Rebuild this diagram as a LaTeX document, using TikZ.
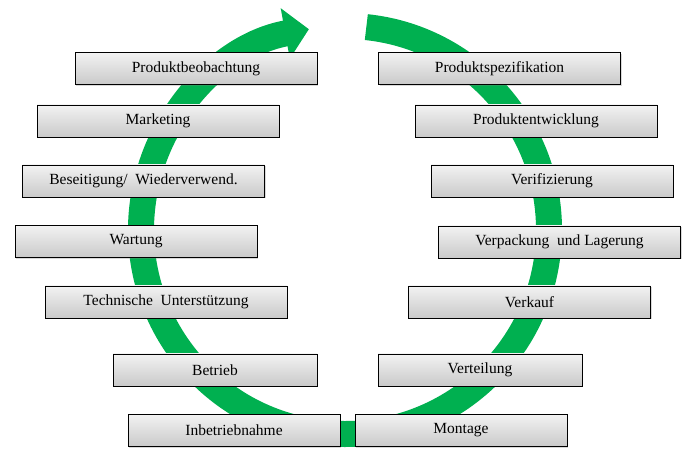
\documentclass[tikz,border=0pt]{standalone}
\usepackage{fontspec}
\setmainfont{Liberation Serif}
\usetikzlibrary{arrows.meta,shadows}
\definecolor{kreisgruen}{HTML}{00B050}
\tikzstyle{phase} = [draw=black, thin, rectangle, top color=gray!10, bottom color=gray!42, minimum height=32pt, inner sep=0pt, font=\fontsize{15.5}{18}\selectfont, drop shadow={shadow xshift=1.2pt, shadow yshift=-1.5pt, opacity=0.3}]
\tikzstyle{lang} = [phase, minimum width=242pt]
\tikzstyle{mittel} = [phase, minimum width=212pt]
\tikzstyle{kurz} = [phase, minimum width=204pt]
\tikzstyle{kreis} = [draw=kreisgruen, line width=26pt, -{Triangle[length=24pt,width=50pt]}]

\begin{document}
\begin{tikzpicture}[x=1pt,y=1pt]
	\useasboundingbox (0,0) rectangle (689,465);
	\coordinate (mitte) at (345,235);
	\draw[kreis] (mitte) ++(84:204) arc[start angle=84, end angle=-259.8, radius=204pt];
	% rechte Seite
	\node[lang](spez) at (499.5,396.5) {Produktspezifikation};
	\node[lang](entw) at (536,344) {Produktentwicklung};
	\node[lang](veri) at (552,284) {Verifizierung};
	\node[lang](lager) at (559.5,223) {Verpackung~ und Lagerung};
	\node[lang](verk) at (529.5,163) {Verkauf};
	\node[kurz](vert) at (480,95) {Verteilung};
	\node[mittel](mont) at (461,34.5) {Montage};
	% linke Seite
	\node[mittel](inbe) at (234,34.5) {Inbetriebnahme};
	\node[kurz](betr) at (215,95) {Betrieb};
	\node[lang](tech) at (166,163) {Technische~ Unterstützung};
	\node[lang](wart) at (136,223.5) {Wartung};
	\node[lang](besei) at (143.5,284) {Beseitigung/~ Wiederverwend.};
	\node[lang](mark) at (158,344) {Marketing};
	\node[lang](beob) at (196,396.5) {Produktbeobachtung};
\end{tikzpicture}
\end{document}
